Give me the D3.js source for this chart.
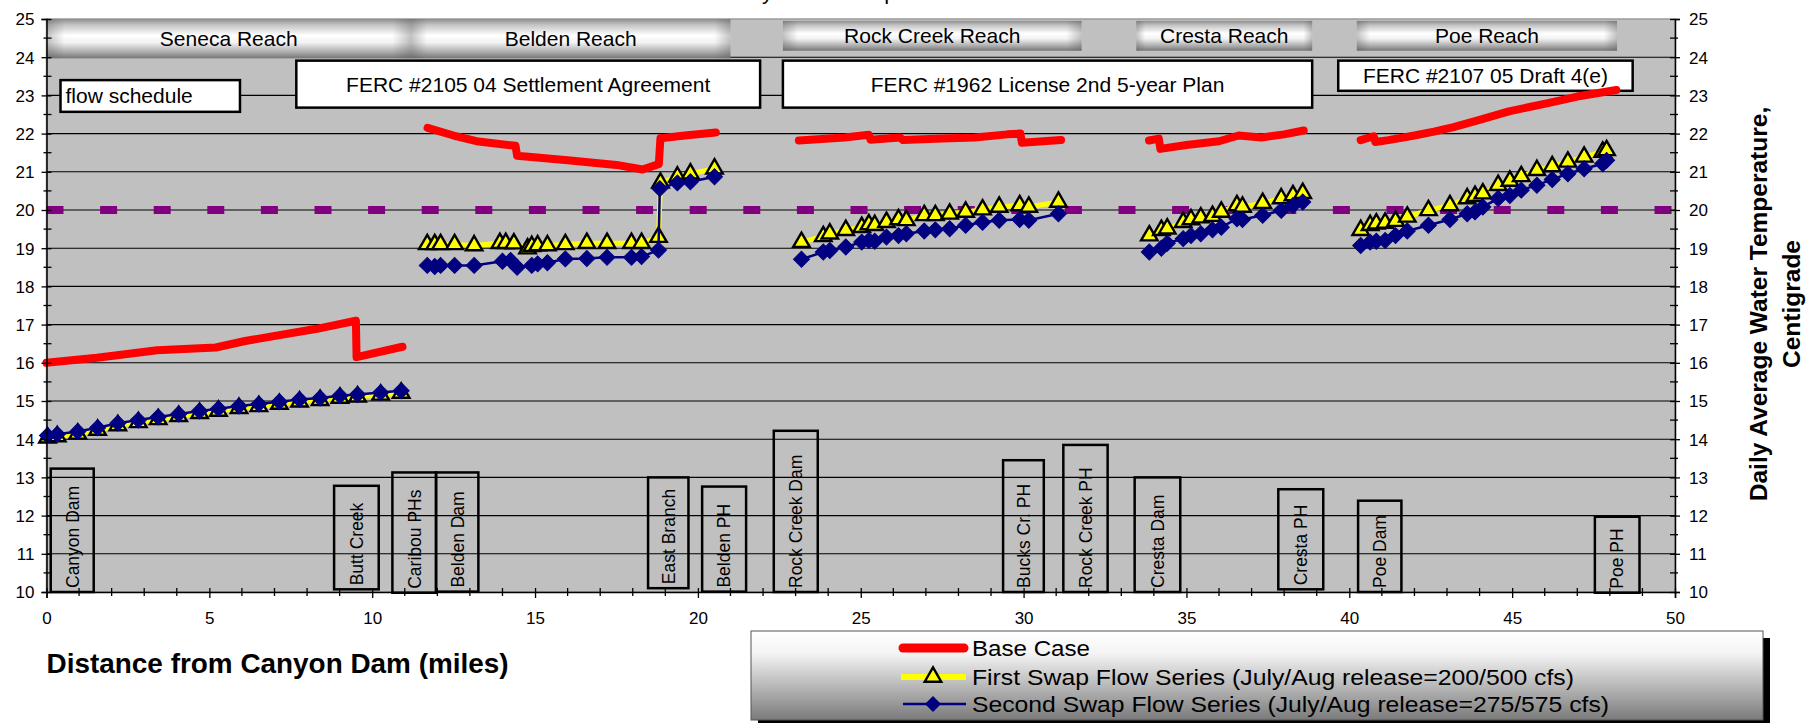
<!DOCTYPE html>
<html><head><meta charset="utf-8">
<script src="https://cdn.jsdelivr.net/npm/d3@7"></script>
<style>body{margin:0;background:#fff;} svg{display:block;font-family:Arial,"Liberation Sans",sans-serif;}</style>
</head><body><svg id="c" width="1807" height="723"></svg>
<script>
// ---------- DATA ----------
const xTickValues = [0,5,10,15,20,25,30,35,40,45,50];
const yTickValues = [10,11,12,13,14,15,16,17,18,19,20,21,22,23,24,25];
const threshold = 20;

const reachNames  = ["Seneca Reach","Belden Reach","Rock Creek Reach","Cresta Reach","Poe Reach"];
const reachStart  = [0, 11.19, 22.61, 33.46, 40.23];
const reachEnd    = [11.19, 21.0, 31.78, 38.86, 48.22];
const reachTop    = [25, 25, 24.95, 24.95, 24.95];
const reachBottom = [23.97, 23.97, 24.17, 24.17, 24.17];

const planNames  = ["flow schedule","FERC #2105 04 Settlement Agreement","FERC #1962 License 2nd 5-year Plan","FERC #2107 05 Draft 4(e)"];
const planStart  = [0.43, 7.67, 22.61, 39.66];
const planEnd    = [5.94, 21.91, 38.86, 48.7];
const planTop    = [23.4, 23.91, 23.91, 23.91];
const planBottom = [22.57, 22.68, 22.68, 23.12];

const siteNames  = ["Canyon Dam","Butt Creek","Caribou PHs","Belden Dam","East Branch","Belden PH","Rock Creek Dam","Bucks Cr. PH","Rock Creek PH","Cresta Dam","Cresta PH","Poe Dam","Poe PH"];
const siteStart  = [0.13, 8.83, 10.62, 11.96, 18.47, 20.13, 22.33, 29.37, 31.22, 33.41, 37.82, 40.27, 47.54];
const siteEnd    = [1.45, 10.2, 11.96, 13.26, 19.71, 21.48, 23.68, 30.62, 32.58, 34.81, 39.2, 41.6, 48.91];
const siteTop    = [13.23, 12.78, 13.13, 13.13, 13.0, 12.76, 14.22, 13.45, 13.85, 13.0, 12.69, 12.39, 11.97];
const siteBottom = [10.0, 10.07, 9.98, 10.01, 10.1, 10.01, 10.0, 10.0, 10.0, 10.0, 10.07, 10.0, 9.98];

// Base Case, one array per reach: [mile, temperature]
const baseSeneca = [[0,16.0],[1.55,16.13],[3.4,16.33],[5.2,16.4],[6.1,16.57],[8.3,16.89],[9.5,17.1],[9.52,16.15],[10.93,16.42]];
const baseBelden = [[11.7,22.15],[12.5,21.95],[13.2,21.8],[14.4,21.68],[14.45,21.42],[16.0,21.3],[17.5,21.18],[18.3,21.06],[18.8,21.2],[18.85,21.88],[19.6,21.95],[20.55,22.03]];
const baseRock   = [[23.1,21.82],[24.5,21.9],[25.25,21.97],[25.3,21.84],[26.2,21.9],[26.3,21.83],[27.5,21.87],[28.5,21.9],[29.5,21.98],[29.9,22.0],[29.95,21.76],[31.15,21.83]];
const baseCresta = [[33.85,21.82],[34.15,21.87],[34.2,21.6],[35.0,21.7],[36.0,21.8],[36.6,21.95],[37.3,21.9],[38.0,21.98],[38.6,22.08]];
const basePoe    = [[40.35,21.83],[40.75,21.93],[40.8,21.78],[41.2,21.83],[42.0,21.95],[42.6,22.05],[43.2,22.17],[44.0,22.36],[44.9,22.58],[46.1,22.8],[47.0,22.97],[48.2,23.14]];

// First Swap Flow Series (yellow triangles)
const firstSeneca = [[0.03,14.04],[0.33,14.07],[0.96,14.14],[1.57,14.24],[2.19,14.36],[2.82,14.44],[3.43,14.52],[4.06,14.6],[4.7,14.68],[5.28,14.74],[5.91,14.81],[6.52,14.86],[7.15,14.92],[7.77,14.98],[8.4,15.02],[9.01,15.08],[9.55,15.11],[10.26,15.16],[10.89,15.21]];
const firstBelden = [[11.69,19.1],[11.92,19.1],[12.1,19.1],[12.53,19.1],[13.13,19.07],[13.92,19.13],[14.1,19.13],[14.35,19.12],[14.77,18.99],[14.9,19.05],[15.08,19.07],[15.38,19.07],[15.93,19.1],[16.59,19.13],[17.21,19.13],[17.96,19.13],[18.27,19.13],[18.79,19.29],[18.85,20.71],[19.37,20.87],[19.77,20.95],[20.51,21.08]];
const firstRock = [[23.18,19.16],[23.85,19.31],[24.05,19.38],[24.54,19.47],[25.03,19.55],[25.25,19.62],[25.43,19.6],[25.79,19.68],[26.16,19.75],[26.4,19.73],[26.95,19.86],[27.29,19.86],[27.73,19.9],[28.22,19.95],[28.74,20.01],[29.25,20.08],[29.88,20.12],[30.16,20.08],[31.07,20.21]];
const firstCresta = [[33.86,19.33],[34.23,19.47],[34.41,19.51],[34.9,19.68],[35.14,19.75],[35.44,19.8],[35.8,19.84],[36.07,19.95],[36.55,20.12],[36.72,20.08],[37.34,20.18],[37.91,20.3],[38.27,20.38],[38.57,20.44]];
const firstPoe = [[40.35,19.47],[40.64,19.6],[40.83,19.64],[41.1,19.66],[41.42,19.71],[41.78,19.82],[42.43,19.99],[43.09,20.12],[43.62,20.3],[43.86,20.36],[44.1,20.43],[44.57,20.65],[44.93,20.76],[45.28,20.88],[45.76,21.04],[46.23,21.14],[46.71,21.26],[47.21,21.39],[47.78,21.52],[47.9,21.56]];

// Second Swap Flow Series (blue diamonds)
const secondSeneca = [[0.03,14.1],[0.33,14.13],[0.96,14.2],[1.57,14.3],[2.19,14.42],[2.82,14.5],[3.43,14.58],[4.06,14.66],[4.7,14.74],[5.28,14.8],[5.91,14.87],[6.52,14.92],[7.15,14.98],[7.77,15.04],[8.4,15.08],[9.01,15.14],[9.55,15.17],[10.26,15.22],[10.89,15.27]];
const secondBelden = [[11.69,18.55],[11.92,18.52],[12.1,18.55],[12.53,18.55],[13.13,18.55],[14.0,18.66],[14.25,18.68],[14.45,18.5],[14.9,18.55],[15.08,18.59],[15.38,18.62],[15.93,18.72],[16.59,18.73],[17.21,18.76],[17.96,18.76],[18.27,18.78],[18.79,18.95],[18.83,20.56],[19.37,20.71],[19.77,20.74],[20.51,20.87]];
const secondRock = [[23.18,18.71],[23.85,18.9],[24.05,18.94],[24.54,19.03],[25.03,19.16],[25.25,19.2],[25.43,19.18],[25.79,19.29],[26.16,19.33],[26.4,19.38],[26.95,19.45],[27.29,19.48],[27.73,19.51],[28.22,19.6],[28.74,19.68],[29.25,19.73],[29.88,19.75],[30.16,19.73],[31.07,19.9]];
const secondCresta = [[33.86,18.9],[34.23,19.0],[34.41,19.13],[34.9,19.25],[35.14,19.33],[35.44,19.38],[35.8,19.48],[36.07,19.55],[36.55,19.77],[36.72,19.75],[37.34,19.86],[37.91,19.99],[38.27,20.12],[38.57,20.21]];
const secondPoe = [[40.35,19.07],[40.64,19.16],[40.83,19.18],[41.1,19.2],[41.42,19.33],[41.78,19.45],[42.43,19.6],[43.09,19.75],[43.62,19.9],[43.86,19.95],[44.1,20.08],[44.57,20.3],[44.93,20.38],[45.28,20.52],[45.76,20.65],[46.23,20.8],[46.71,20.95],[47.21,21.08],[47.78,21.21],[47.9,21.3]];

const baseCase   = [baseSeneca, baseBelden, baseRock, baseCresta, basePoe];
const firstSwap  = [firstSeneca, firstBelden, firstRock, firstCresta, firstPoe];
const secondSwap = [secondSeneca, secondBelden, secondRock, secondCresta, secondPoe];

const legendLabels = ["Base Case","First Swap Flow Series (July/Aug release=200/500 cfs)","Second Swap Flow Series (July/Aug release=275/575 cfs)"];
const xTitle = "Distance from Canyon Dam (miles)";
const yTitleLines = ["Daily Average Water Temperature,","Centigrade"];
const chartTitle = "Daily Water Temperature";

// ---------- DRAW ----------
const svg = d3.select("#c");
const x = d3.scaleLinear().domain([0,50]).range([46.5,1675]);
const y = d3.scaleLinear().domain([10,25]).range([592,19]);

const defs = svg.append("defs");
const bg = defs.append("linearGradient").attr("id","band").attr("x1",0).attr("y1",0).attr("x2",0).attr("y2",1);
[[0,"#8e8e8e"],[0.15,"#c4c4c4"],[0.42,"#ffffff"],[0.6,"#f2f2f2"],[0.85,"#a8a8a8"],[1,"#767676"]].forEach(s=>bg.append("stop").attr("offset",s[0]).attr("stop-color",s[1]));
const bh = defs.append("linearGradient").attr("id","bandH").attr("x1",0).attr("y1",0).attr("x2",1).attr("y2",0);
[[0,0.35],[0.05,0],[0.95,0],[1,0.35]].forEach(s=>bh.append("stop").attr("offset",s[0]).attr("stop-color","#555").attr("stop-opacity",s[1]));
const lg = defs.append("linearGradient").attr("id","leg").attr("x1",0).attr("y1",0).attr("x2",0).attr("y2",1);
[[0,"#ffffff"],[0.25,"#f4f4f4"],[1,"#7a7a7a"]].forEach(s=>lg.append("stop").attr("offset",s[0]).attr("stop-color",s[1]));

// title, mostly above the visible area (only descenders show, as in the source)
svg.append("text").attr("x",724).attr("y",-1).attr("font-size",22).attr("fill","#000").text(chartTitle);

// plot background
svg.append("rect").attr("x",x(0)).attr("y",y(25)).attr("width",x(50)-x(0)).attr("height",y(10)-y(25))
  .attr("fill","#c0c0c0").attr("stroke","#9a9a9a").attr("stroke-width",1.5);

// gridlines
svg.append("g").selectAll("line").data(yTickValues.filter(v=>v>10&&v<25)).join("line")
  .attr("x1",x(0)).attr("x2",x(50)).attr("y1",d=>y(d)).attr("y2",d=>y(d))
  .attr("stroke","#000").attr("stroke-width",1.1);

// reach bands
const rg = svg.append("g");
reachNames.forEach((n,i)=>{
  const bx=x(reachStart[i]), bw=x(reachEnd[i])-x(reachStart[i]), by=y(reachTop[i]), bhh=y(reachBottom[i])-y(reachTop[i]);
  rg.append("rect").attr("x",bx).attr("y",by).attr("width",bw).attr("height",bhh).attr("fill","url(#band)");
  rg.append("rect").attr("x",bx).attr("y",by).attr("width",bw).attr("height",bhh).attr("fill","url(#bandH)");
  rg.append("text").attr("x",bx+bw/2).attr("y",by+bhh/2+7.5).attr("text-anchor","middle").attr("font-size",21).text(n);
});

// plan boxes
const pg = svg.append("g");
planNames.forEach((n,i)=>{
  const bx=x(planStart[i]), bw=x(planEnd[i])-x(planStart[i]), by=y(planTop[i]), bhh=y(planBottom[i])-y(planTop[i]);
  pg.append("rect").attr("x",bx).attr("y",by).attr("width",bw).attr("height",bhh).attr("fill","#fff").attr("stroke","#000").attr("stroke-width",2.5);
  if(i===0){
    pg.append("text").attr("x",bx+5).attr("y",by+bhh/2+7.5).attr("font-size",21).text(n);
  } else {
    pg.append("text").attr("x",bx+bw/2).attr("y",by+bhh/2+7.5).attr("text-anchor","middle").attr("font-size",21).text(n);
  }
});

// site boxes
const sg = svg.append("g");
siteNames.forEach((n,i)=>{
  const bx=x(siteStart[i]), bw=x(siteEnd[i])-x(siteStart[i]), by=y(siteTop[i]), bhh=y(siteBottom[i])-y(siteTop[i]);
  sg.append("rect").attr("x",bx).attr("y",by).attr("width",bw).attr("height",bhh).attr("fill","none").attr("stroke","#000").attr("stroke-width",2.5);
  const cx=bx+bw/2+6.3, cy=by+bhh-4;
  sg.append("text").attr("transform",`translate(${cx},${cy}) rotate(-90)`).attr("font-size",17.5).text(n);
});

// threshold line
svg.append("line").attr("x1",x(0)).attr("x2",x(50)).attr("y1",y(threshold)).attr("y2",y(threshold))
  .attr("stroke","#800080").attr("stroke-width",8).attr("stroke-dasharray","17,36.6");

const line = d3.line().x(d=>x(d[0])).y(d=>y(d[1]));

// base case
svg.append("g").selectAll("path").data(baseCase).join("path").attr("d",line)
  .attr("fill","none").attr("stroke","#ff0000").attr("stroke-width",8).attr("stroke-linecap","round").attr("stroke-linejoin","round");

// first swap
const fg = svg.append("g");
fg.selectAll("path").data(firstSwap).join("path").attr("d",line)
  .attr("fill","none").attr("stroke","#ffff00").attr("stroke-width",5).attr("stroke-linejoin","round");
const tri = d3.symbol(d3.symbolTriangle, 118);
fg.selectAll("path.m").data(firstSwap.flat()).join("path").attr("class","m").attr("d",tri)
  .attr("transform",d=>`translate(${x(d[0])},${y(d[1])})`)
  .attr("fill","#ffff00").attr("stroke","#000").attr("stroke-width",2.4).attr("stroke-linejoin","miter");

// second swap
const sg2 = svg.append("g");
sg2.selectAll("path").data(secondSwap).join("path").attr("d",line)
  .attr("fill","none").attr("stroke","#000080").attr("stroke-width",2.5);
const dia = d3.symbol(d3.symbolSquare, 128);
sg2.selectAll("path.m").data(secondSwap.flat()).join("path").attr("class","m").attr("d",dia)
  .attr("transform",d=>`translate(${x(d[0])},${y(d[1])}) rotate(45)`)
  .attr("fill","#000080").attr("stroke","#000080").attr("stroke-width",1);

// axes
function styleAxis(g){ g.select(".domain").attr("stroke","#000").attr("stroke-width",1.5); g.selectAll(".tick text").attr("font-size",17).attr("fill","#000").attr("font-family","Arial, Liberation Sans, sans-serif"); g.selectAll(".tick line").attr("stroke","#000").attr("stroke-width",1.3); }

const yMinor = d3.range(10.5,25,1);
const axL = svg.append("g").attr("transform",`translate(${x(0)},0)`).call(d3.axisLeft(y).tickValues(yTickValues).tickFormat(d3.format("d")).tickSizeOuter(0).tickSize(5).tickPadding(8));
axL.selectAll(".tick line").attr("x1",-5).attr("x2",5);
styleAxis(axL);
axL.selectAll(".tick text").attr("x",-12).attr("dy","0.35em");
svg.append("g").selectAll("line").data(yMinor).join("line").attr("x1",x(0)-3).attr("x2",x(0)+5).attr("y1",d=>y(d)).attr("y2",d=>y(d)).attr("stroke","#000").attr("stroke-width",1.3);

const axR = svg.append("g").attr("transform",`translate(${x(50)},0)`).call(d3.axisRight(y).tickValues(yTickValues).tickFormat(d3.format("d")).tickSizeOuter(0).tickSize(5).tickPadding(8));
axR.selectAll(".tick line").attr("x1",-5).attr("x2",5);
styleAxis(axR);
axR.selectAll(".tick text").attr("x",14).attr("dy","0.35em");
svg.append("g").selectAll("line").data(yMinor).join("line").attr("x1",x(50)-5).attr("x2",x(50)+3).attr("y1",d=>y(d)).attr("y2",d=>y(d)).attr("stroke","#000").attr("stroke-width",1.3);

const axB = svg.append("g").attr("transform",`translate(0,${y(10)})`).call(d3.axisBottom(x).tickValues(xTickValues).tickSizeOuter(0).tickSize(6).tickPadding(8));
axB.selectAll(".tick line").attr("y1",-4).attr("y2",6);
styleAxis(axB);
axB.selectAll(".tick text").attr("y",20).attr("dy","0.71em");
svg.append("g").selectAll("line").data(d3.range(1,50).filter(v=>v%5!==0)).join("line")
  .attr("x1",d=>x(d)).attr("x2",d=>x(d)).attr("y1",y(10)-4).attr("y2",y(10)+4).attr("stroke","#000").attr("stroke-width",1.3);

// titles
svg.append("text").attr("x",46.6).attr("y",672.7).attr("font-size",27).attr("font-weight","bold").attr("textLength",462).attr("lengthAdjust","spacingAndGlyphs").text(xTitle);
svg.append("text").attr("transform","translate(1766.5,304) rotate(-90)").attr("text-anchor","middle").attr("font-size",24.5).attr("font-weight","bold").text(yTitleLines[0]);
svg.append("text").attr("transform","translate(1799.5,304) rotate(-90)").attr("text-anchor","middle").attr("font-size",24.5).attr("font-weight","bold").text(yTitleLines[1]);

// legend
const L = svg.append("g");
L.append("rect").attr("x",758).attr("y",638).attr("width",1012).attr("height",89).attr("fill","#000");
L.append("rect").attr("x",751).attr("y",631).attr("width",1012).attr("height",89).attr("fill","url(#leg)").attr("stroke","#555").attr("stroke-width",1);
const rowsY=[648,677,704];
L.append("line").attr("x1",903).attr("x2",964).attr("y1",rowsY[0]).attr("y2",rowsY[0]).attr("stroke","#ff0000").attr("stroke-width",9).attr("stroke-linecap","round");
L.append("line").attr("x1",901).attr("x2",966).attr("y1",rowsY[1]).attr("y2",rowsY[1]).attr("stroke","#ffff00").attr("stroke-width",6);
L.append("path").attr("d",tri).attr("transform",`translate(933,${rowsY[1]})`).attr("fill","#ffff00").attr("stroke","#000").attr("stroke-width",2.4);
L.append("line").attr("x1",903).attr("x2",966).attr("y1",rowsY[2]).attr("y2",rowsY[2]).attr("stroke","#000080").attr("stroke-width",2.5);
L.append("path").attr("d",dia).attr("transform",`translate(933,${rowsY[2]}) rotate(45)`).attr("fill","#000080");
const legW=[118,602,637];
legendLabels.forEach((t,i)=>{
  L.append("text").attr("x",972).attr("y",rowsY[i]+7.5).attr("font-size",22).attr("textLength",legW[i]).attr("lengthAdjust","spacingAndGlyphs").text(t);
});
</script></body></html>
